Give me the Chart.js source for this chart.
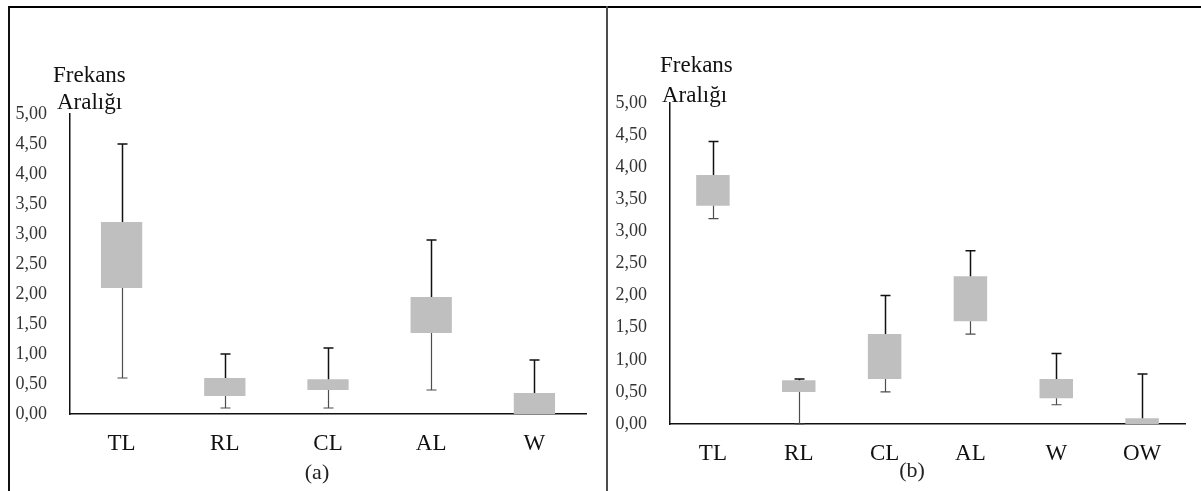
<!DOCTYPE html>
<html>
<head>
<meta charset="utf-8">
<script src="https://cdn.jsdelivr.net/npm/chart.js@4.4.1/dist/chart.umd.min.js"></script>
<style>
  body { margin: 0; background: #fff; width: 1201px; height: 491px; overflow: hidden; position: relative; }
  .frame { position: absolute; left: 8px; top: 6px; width: 1193px; height: 485px; border-top: 2px solid #000; border-left: 2px solid #111; box-sizing: border-box; }
  .divider { position: absolute; left: 606px; top: 6px; width: 2px; height: 485px; background: #4d4d4d; }
  .panel { position: absolute; top: 0; }
</style>
</head>
<body>
<div class="frame"></div>
<div class="divider"></div>
<div class="panel" style="left:0px"><canvas id="chartA" width="606" height="491"></canvas></div>
<div class="panel" style="left:609px"><canvas id="chartB" width="592" height="491"></canvas></div>
<script>
// --- data (a) ---
const catsA = ["TL", "RL", "CL", "AL", "W"];
const lowA  = [0.6, 0.1, 0.1, 0.4, 0];
const q1A   = [2.1, 0.3, 0.4, 1.35, 0];
const q3A   = [3.2, 0.6, 0.58, 1.95, 0.35];
const highA = [4.5, 1.0, 1.1, 2.9, 0.9];

// --- data (b) ---
const catsB = ["TL", "RL", "CL", "AL", "W", "OW"];
const lowB  = [3.2, 0, 0.5, 1.4, 0.3, 0];
const q1B   = [3.4, 0.5, 0.7, 1.6, 0.4, 0];
const q3B   = [3.88, 0.68, 1.4, 2.3, 0.7, 0.09];
const highB = [4.4, 0.7, 2.0, 2.7, 1.1, 0.78];

const yTickLabels = ["0,00", "0,50", "1,00", "1,50", "2,00", "2,50", "3,00", "3,50", "4,00", "4,50", "5,00"];
const yTitle = ["Frekans", "Aralığı"];

const SERIF = "'Liberation Serif', 'Times New Roman', serif";

// whiskers (min/max) drawn through the chart's own scales
const whiskerPlugin = {
  id: "whiskers",
  afterDatasetsDraw(chart, args, opts) {
    const { ctx, scales: { x, y } } = chart;
    const cap = 5;
    ctx.save();
    opts.low.forEach((lo, i) => {
      const px = Math.round(x.getPixelForValue(i)) + 0.5;
      // upper whisker
      if (opts.high[i] > opts.q3[i]) {
        const yTop = y.getPixelForValue(opts.high[i]);
        const yBox = y.getPixelForValue(opts.q3[i]);
        ctx.strokeStyle = "#111";
        ctx.lineWidth = 1.5;
        ctx.beginPath();
        ctx.moveTo(px, yBox); ctx.lineTo(px, yTop);
        ctx.moveTo(px - cap, yTop); ctx.lineTo(px + cap, yTop);
        ctx.stroke();
      }
      // lower whisker
      if (lo < opts.q1[i]) {
        const yBot = y.getPixelForValue(lo);
        const yBox = y.getPixelForValue(opts.q1[i]);
        ctx.strokeStyle = "#4d4d4d";
        ctx.lineWidth = 1.2;
        ctx.beginPath();
        ctx.moveTo(px, yBox); ctx.lineTo(px, yBot);
        ctx.moveTo(px - cap, yBot); ctx.lineTo(px + cap, yBot);
        ctx.stroke();
      }
    });
    ctx.restore();
  }
};

// free texts (axis title, caption)
const textPlugin = {
  id: "texts",
  afterDraw(chart, args, opts) {
    const ctx = chart.ctx;
    ctx.save();
    opts.items.forEach((t) => {
      ctx.font = t.font;
      ctx.fillStyle = t.color || "#222";
      ctx.textAlign = t.align || "left";
      ctx.textBaseline = "alphabetic";
      ctx.fillText(t.text, t.x, t.y);
    });
    ctx.restore();
  }
};

const buildConfig = ({ cats, low, q1, q3, high, barPct, pad, yWidth, xHeight, texts }) => ({
  type: "bar",
  data: {
    labels: cats,
    datasets: [{
      data: q1.map((v, i) => [v, q3[i]]),
      backgroundColor: "#bfbfbf",
      borderWidth: 0,
      categoryPercentage: 1,
      barPercentage: barPct,
    }],
  },
  options: {
    responsive: false,
    animation: false,
    devicePixelRatio: 1,
    layout: { padding: pad },
    plugins: {
      legend: { display: false },
      tooltip: { enabled: false },
      whiskers: { low, q1, q3, high },
      texts: { items: texts },
    },
    scales: {
      x: {
        grid: { display: false },
        border: { display: true, color: "#111", width: 1.5 },
        ticks: { color: "#111", padding: 8, font: { family: SERIF, size: 23 } },
        afterFit: (s) => { s.height = xHeight; },
      },
      y: {
        min: 0, max: 5,
        grid: { display: false },
        border: { display: true, color: "#111", width: 1.5 },
        ticks: {
          stepSize: 0.5,
          color: "#333",
          padding: 15,
          font: { family: SERIF, size: 18 },
          callback: (val, idx) => yTickLabels[idx],
        },
        afterFit: (s) => { s.width = yWidth; },
      },
    },
  },
  plugins: [whiskerPlugin, textPlugin],
});

new Chart(document.getElementById("chartA"), buildConfig({
  cats: catsA, low: lowA, q1: q1A, q3: q3A, high: highA,
  barPct: 0.4,
  pad: { top: 114, right: 20, left: 0, bottom: 0 },
  yWidth: 70, xHeight: 77,
  texts: [
    { text: yTitle[0], x: 53, y: 82, font: "23px " + SERIF, color: "#111" },
    { text: yTitle[1], x: 57, y: 109, font: "23px " + SERIF, color: "#111" },
    { text: "(a)", x: 317, y: 479, font: "22px " + SERIF, color: "#222", align: "center" },
  ],
}));

new Chart(document.getElementById("chartB"), buildConfig({
  cats: catsB, low: lowB, q1: q1B, q3: q3B, high: highB,
  barPct: 0.39,
  pad: { top: 103, right: 16, left: 0, bottom: 0 },
  yWidth: 61, xHeight: 67,
  texts: [
    { text: yTitle[0], x: 51, y: 72, font: "23px " + SERIF, color: "#111" },
    { text: yTitle[1], x: 53, y: 102, font: "23px " + SERIF, color: "#111" },
    { text: "(b)", x: 303, y: 477, font: "22px " + SERIF, color: "#222", align: "center" },
  ],
}));
</script>
</body>
</html>
